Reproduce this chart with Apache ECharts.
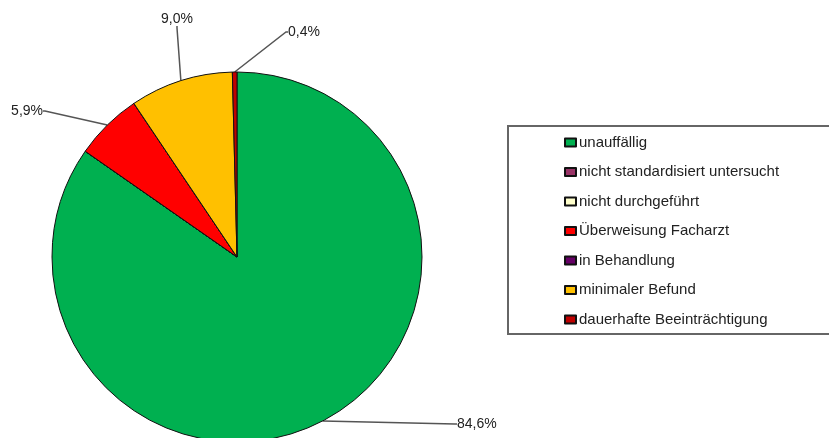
<!DOCTYPE html>
<html>
<head>
<meta charset="utf-8">
<script src="https://cdn.jsdelivr.net/npm/echarts@6/dist/echarts.min.js"></script>
<style>
  html, body { margin: 0; padding: 0; background: #fff; }
  #chart { width: 829px; height: 438px; }
</style>
</head>
<body>
<div id="chart"></div>
<script>
// categories and shares (percent), clockwise from 12 o'clock
const categories = [
  'unauffällig',
  'nicht standardisiert untersucht',
  'nicht durchgeführt',
  'Überweisung Facharzt',
  'in Behandlung',
  'minimaler Befund',
  'dauerhafte Beeinträchtigung'
];
const values = [84.6, 0, 0, 5.9, 0, 9.0, 0.4];
const colors = ['#00B050', '#993366', '#FFFFCC', '#FF0000', '#660066', '#FFC000', '#C00000'];

// where each percentage label sits (x, y, align) - null = no label
const labelSpots = [
  [457, 424, 'left'],
  null,
  null,
  [43, 111, 'right'],
  null,
  [177, 19, 'center'],
  [288, 32, 'left']
];

const fmt = v => v.toFixed(1).replace('.', ',') + '%';

let myChart = echarts.init(document.getElementById('chart'));

const pieData = categories.map((name, i) => ({
  name: name,
  value: values[i],
  itemStyle: { color: colors[i] },
  label: { show: values[i] > 0 },
  labelLine: { show: values[i] > 0, length2: 2 }
}));

myChart.setOption({
  animation: false,
  textStyle: { fontFamily: 'Liberation Sans, Arial, sans-serif' },
  legend: {
    orient: 'vertical',
    left: 508,
    top: 126,
    padding: [9, 60, 7, 56],
    itemGap: 14.5,
    itemWidth: 11,
    itemHeight: 8,
    icon: 'rect',
    selectedMode: false,
    borderColor: '#666',
    borderWidth: 2,
    textStyle: { fontSize: 15, color: '#222', padding: [0, 0, 0, -2] },
    data: categories
  },
  series: [{
    type: 'pie',
    center: [237, 257],
    radius: 185,
    startAngle: 90,
    clockwise: true,
    avoidLabelOverlap: false,
    stillShowZeroSum: true,
    itemStyle: { borderColor: '#111', borderWidth: 1 },
    label: {
      position: 'outside',
      fontSize: 14,
      color: '#222',
      formatter: p => fmt(p.value)
    },
    labelLine: {
      length: 20,
      length2: 2,
      lineStyle: { color: '#555', width: 1.5 }
    },
    labelLayout: function (params) {
      const s = labelSpots[params.dataIndex];
      if (!s) return {};
      return { x: s[0], y: s[1], align: s[2], verticalAlign: 'middle' };
    },
    emphasis: { disabled: true },
    data: pieData
  }]
});
</script>
</body>
</html>
